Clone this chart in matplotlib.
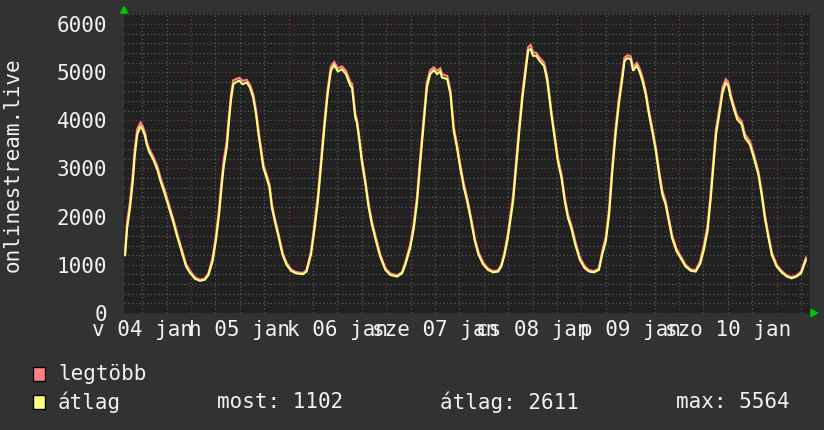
import matplotlib
matplotlib.use('Agg')
import matplotlib.pyplot as plt
from matplotlib.ticker import MultipleLocator, FixedLocator
from matplotlib.patches import Rectangle, Polygon
from matplotlib.transforms import blended_transform_factory

# ---- data: hours since 04 jan 00:00 ----
hours = [7.8, 8.3, 9.0, 9.7, 10.2, 10.8, 11.6, 12.1, 12.7, 13.1, 13.7, 14.7, 15.7, 16.5, 17.6, 18.7, 19.6, 20.6, 21.7, 22.8,
         23.8, 25.0, 26.2, 27.4, 28.3, 29.3, 30.1, 30.9, 31.5, 32.1, 32.8, 33.2, 33.8, 34.4, 35.2,
         35.9, 36.7, 37.7, 38.5, 39.3, 40.0, 40.6, 41.2, 41.8, 42.6, 43.3, 43.9, 44.7, 45.6, 46.5, 47.5, 48.6, 49.8, 51.5, 52.4,
         53.5, 54.3, 55.2, 56.0, 56.8, 57.6, 58.4, 59.2, 60.1, 61.1, 62.1, 63.2,
         63.6, 64.4, 64.8, 65.4, 66.0, 66.9, 67.7, 68.5, 69.5, 70.5, 71.8, 73.0, 74.7, 75.9, 76.7, 77.9, 78.8, 79.6, 80.4, 81.2,
         82.0, 82.8, 83.7, 84.5, 85.3, 85.7, 87.0, 87.8, 88.6, 89.4, 90.2, 91.1, 91.9, 92.9,
         93.8, 94.7, 95.8, 97.0, 98.3, 99.5, 100.3, 101.1, 101.9, 102.6, 103.2, 104.0, 104.8, 105.5, 106.2, 106.9, 107.5, 108.1,
         108.9, 109.7, 110.8, 111.6, 112.6, 113.4, 114.2, 115.1, 115.9, 116.7, 117.5, 118.5, 119.6, 120.8,
         121.9, 123.1, 124.3, 125.1, 126.0, 126.8, 127.6, 128.4, 129.2, 130.1, 130.6, 131.3, 132.1, 132.7, 133.6, 134.2, 135.0,
         135.8, 136.6, 137.4, 138.3, 139.1, 139.9, 140.7, 141.5, 142.3, 143.4, 144.4, 145.6, 146.9, 148.1,
         149.2, 150.1, 151.0, 151.8, 152.4, 153.1, 153.9, 154.7, 155.5, 156.1, 156.7, 157.5, 158.3, 159.4, 160.2, 161.4, 162.4,
         163.5, 164.3, 165.1, 166.0, 166.8, 168.0, 169.2, 170.5, 171.7, 172.9, 174.0, 175.2]

avg_vals = [1200, 1760, 2180, 2740, 3290, 3710, 3880, 3810, 3670, 3500, 3350, 3190, 2980, 2740, 2460, 2150, 1900, 1590, 1280, 965,
            830, 710, 667, 690, 790, 1070, 1490, 2040, 2600, 3080, 3430, 3850, 4400, 4750, 4800,
            4820, 4750, 4785, 4680, 4470, 4125, 3710, 3360, 3010, 2805, 2600, 2180, 1870, 1555, 1210, 1000, 875, 825, 805, 860,
            1210, 1695, 2320, 3080, 3850, 4540, 5030, 5150, 5015, 5060, 4960, 4715,
            4680, 4055, 3950, 3570, 3150, 2670, 2180, 1830, 1490, 1175, 895, 790, 757, 825, 1000, 1350, 1765, 2320, 3150, 3915,
            4680, 4960, 5040, 4960, 5015, 4890, 4855, 4540, 3780, 3430, 3010, 2600, 2320, 1900,
            1490, 1210, 1015, 895, 845, 860, 965, 1210, 1555, 1970, 2320, 3080, 3850, 4470, 4960, 5445, 5480, 5340,
            5340, 5235, 5130, 4820, 4125, 3640, 3150, 2805, 2320, 1970, 1765, 1415, 1105, 930,
            860, 845, 895, 1210, 1490, 2040, 2945, 3710, 4335, 4890, 5235, 5290, 5270, 5030, 5130, 5030, 4820,
            4540, 4125, 3780, 3360, 2875, 2460, 2250, 1900, 1555, 1280, 1140, 965, 875, 860,
            1020, 1310, 1695, 2390, 3010, 3710, 4125, 4575, 4785, 4715, 4470, 4230, 4020, 3915, 3640, 3500, 3220,
            2875, 2460, 1970, 1555, 1210, 965, 845, 757, 720, 757, 825, 1100]

max_vals = [1280, 1880, 2300, 2880, 3420, 3820, 3950, 3880, 3740, 3560, 3410, 3250, 3050, 2810, 2530, 2220, 1960, 1650, 1330, 1010,
            870, 740, 690, 715, 830, 1140, 1580, 2150, 2720, 3200, 3560, 3960, 4500, 4830, 4860,
            4880, 4820, 4840, 4740, 4540, 4200, 3790, 3430, 3080, 2870, 2670, 2250, 1930, 1610, 1260, 1040, 905, 850, 830, 890,
            1270, 1790, 2430, 3200, 3960, 4640, 5110, 5210, 5080, 5120, 5030, 4790,
            4760, 4130, 4020, 3640, 3220, 2740, 2250, 1890, 1550, 1220, 930, 820, 780, 850, 1050, 1420, 1860, 2430, 3270, 4030,
            4780, 5040, 5100, 5030, 5080, 4960, 4920, 4620, 3860, 3500, 3080, 2670, 2390, 1960,
            1540, 1260, 1050, 925, 870, 885, 1000, 1270, 1640, 2070, 2430, 3200, 3970, 4580, 5060, 5520, 5564, 5410,
            5400, 5300, 5200, 4900, 4200, 3710, 3220, 2870, 2390, 2040, 1830, 1480, 1160, 970,
            890, 870, 925, 1270, 1580, 2150, 3060, 3830, 4440, 4990, 5300, 5350, 5330, 5100, 5190, 5100, 4900,
            4610, 4200, 3850, 3430, 2950, 2530, 2320, 1960, 1610, 1330, 1180, 1000, 905, 890,
            1080, 1400, 1800, 2500, 3130, 3820, 4230, 4680, 4850, 4790, 4540, 4300, 4090, 3980, 3710, 3570, 3290,
            2940, 2530, 2040, 1610, 1260, 1000, 875, 780, 745, 780, 860, 1150]

day_labels = ["v 04 jan", "h 05 jan", "k 06 jan", "sze 07 jan", "cs 08 jan", "p 09 jan", "szo 10 jan"]
day_noons = [12, 36, 60, 84, 108, 132, 156]
day_bounds = [24, 48, 72, 96, 120, 144, 168]
y_ticks = [0, 1000, 2000, 3000, 4000, 5000, 6000]
series_names = ["legtöbb", "átlag"]
stats_text = ["most: 1102", "átlag: 2611", "max: 5564"]
y_title = "onlinestream.live"

# ---- style ----
W, H = 824, 430
FONT = 'DejaVu Sans Mono'
TXT = '#f2f2f2'
RED = '#ff8080'
YEL = '#ffff80'

fig = plt.figure(figsize=(W / 100, H / 100), dpi=100, facecolor='#323232')
ax = fig.add_axes([124 / W, (H - 313) / H, (810 - 124) / W, (313 - 14) / H])
ax.set_facecolor('#212121')
ax.set_xlim(7.53, 176.2)
ax.set_ylim(0, 6207)

ax.xaxis.set_major_locator(FixedLocator(day_bounds))
ax.xaxis.set_minor_locator(MultipleLocator(6))
ax.set_yticks(y_ticks)
ax.yaxis.set_minor_locator(MultipleLocator(200))
ax.grid(which='minor', color='#575757', linestyle=(0, (1, 2)), linewidth=0.9)
ax.grid(which='major', color='#7e3434', linestyle=(0, (1, 2)), linewidth=0.9)
ax.set_axisbelow(True)
ax.tick_params(which='both', length=0)
ax.tick_params(axis='x', labelbottom=False)
ax.tick_params(axis='y', labelsize=15, labelcolor=TXT, pad=12)
for lab in ax.get_yticklabels():
    lab.set_family(FONT)
for s in ax.spines.values():
    s.set_visible(False)

ax.plot(hours, max_vals, color=RED, linewidth=1.6, solid_joinstyle='miter')
ax.plot(hours, avg_vals, color=YEL, linewidth=1.5, solid_joinstyle='miter')

trans = blended_transform_factory(ax.transData, fig.transFigure)
for h, lab in zip(day_noons, day_labels):
    ax.text(h, (H - 336.5) / H, lab, transform=trans, ha='center', va='baseline',
            fontsize=15, family=FONT, color=TXT, clip_on=False)

fig.text(13 / W, 1 - 165 / H, y_title, rotation=90, ha='center', va='center',
         fontsize=15, family=FONT, color=TXT)

# arrows
def px(x, y):
    return (x / W, 1 - y / H)
fig.patches.append(Polygon([px(120.5, 13), px(127.5, 13), px(124, 6.5)], closed=True,
                           transform=fig.transFigure, color='#00c800'))
fig.patches.append(Polygon([px(811, 309.5), px(811, 316.5), px(817.5, 313)], closed=True,
                           transform=fig.transFigure, color='#00c800'))

# legend
for i, (name, col) in enumerate(zip(series_names, [RED, YEL])):
    yc = 374 + i * 28
    fig.patches.append(Rectangle(px(33, yc + 7), 12 / W, 14 / H, transform=fig.transFigure,
                                 facecolor=col, edgecolor='black', linewidth=1))
    fig.text(58 / W, 1 - yc / H, name, ha='left', va='center', fontsize=15, family=FONT, color=TXT)

for xpos, s in zip([217, 440, 676], stats_text):
    fig.text(xpos / W, 1 - 402 / H, s, ha='left', va='center', fontsize=15, family=FONT, color=TXT)

fig.savefig('out.png', dpi=100, facecolor=fig.get_facecolor())
